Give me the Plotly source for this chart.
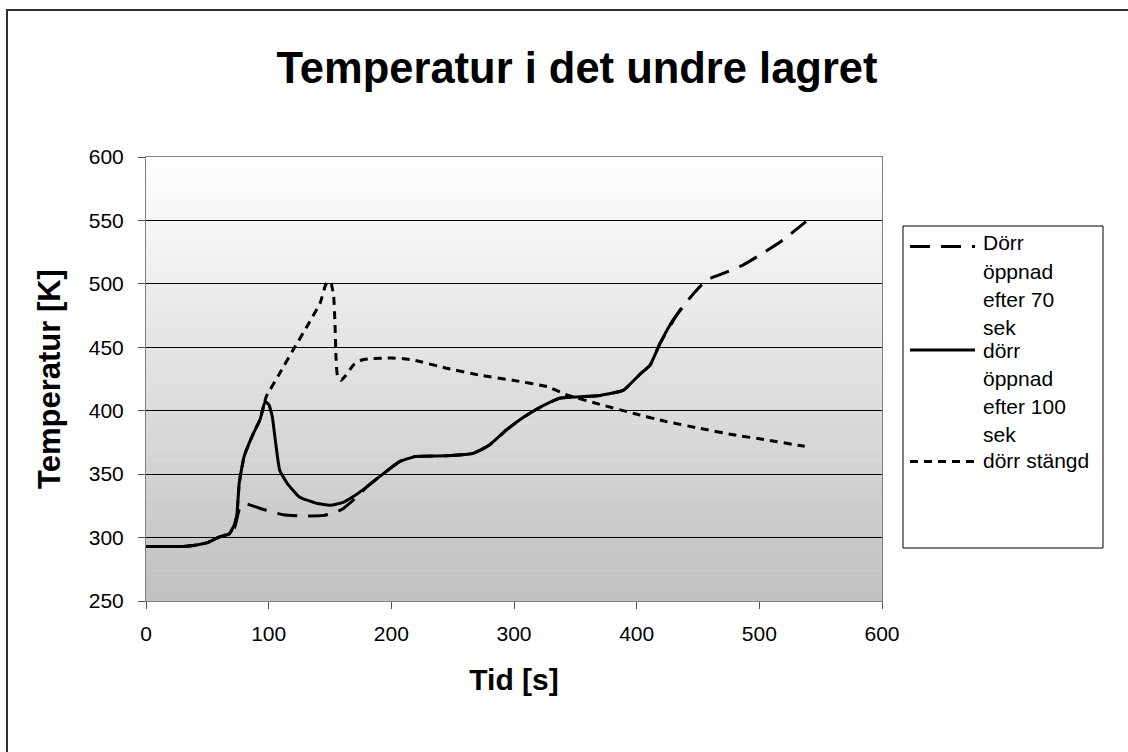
import plotly.graph_objects as go

# ---------------- data ----------------
x_open70 = [0, 10, 20, 30, 40, 50, 60, 68, 72, 76, 80, 90, 98, 112, 131, 145, 155, 161, 172, 180,
            193, 207, 220, 245, 267, 280, 294, 308, 318, 330, 338, 354, 370, 389, 403, 411, 419,
            435, 447, 457, 470, 487, 500, 517, 538]
y_open70 = [293, 293, 293, 293, 294, 296, 300.5, 303, 307, 322, 327, 324, 321.5, 318, 317, 317.5, 320, 323, 332, 340,
            350, 360, 364, 364.5, 366.5, 373, 385, 395, 401, 407, 410, 411, 412, 416, 429, 436, 453,
            479, 493, 503, 508, 515, 522.5, 533, 549]

x_open100 = [0, 10, 20, 30, 40, 50, 60, 68, 72, 74, 76, 80, 87, 93, 97, 100, 103, 105, 109, 115, 125, 139,
             150, 160, 170, 180, 193, 207, 220, 245, 267, 280, 294, 308, 318, 330, 338, 354, 370, 389,
             403, 411, 419, 430, 437]
y_open100 = [293, 293, 293, 293, 294, 296, 300.5, 303, 310, 317, 343, 364, 381, 393, 407, 405, 395, 380, 353, 343, 332, 327,
             325.5, 327.5, 333, 340, 350, 360, 364, 364.5, 366.5, 373, 385, 395, 401, 407, 410, 411, 412, 416,
             429, 436, 453, 472, 481]

x_closed = [0, 10, 20, 30, 40, 50, 60, 68, 72, 74, 76, 80, 87, 93, 98, 109, 120, 131, 142, 146, 148, 151,
            153, 154, 155, 156, 159, 163, 169, 176, 183, 200, 210, 218, 245, 272, 299, 327, 343, 370,
            397, 424, 452, 479, 506, 533, 537]
y_closed = [293, 293, 293, 293, 294, 296, 300.5, 303, 310, 317, 343, 364, 381, 393, 411, 429.5, 448, 466, 485, 498, 502, 500,
            490, 470, 440, 428, 424, 428, 436, 440, 441, 441.5, 441, 440, 433.5, 428, 424, 419, 412.5, 405,
            398, 391.5, 386, 381, 377, 372.5, 372]

series_names = ["Dörr öppnad efter 70 sek", "dörr öppnad efter 100 sek", "dörr stängd"]
legend_lines = [["Dörr", "öppnad", "efter 70", "sek"],
                ["dörr", "öppnad", "efter 100", "sek"],
                ["dörr stängd"]]

title_text = "Temperatur i det undre lagret"
x_title = "Tid [s]"
y_title = "Temperatur [K]"

# ---------------- layout geometry ----------------
W, H = 1128, 752
L, R, T, B = 146, 882, 157, 601
PW, PH = R - L, B - T


def px(xp):
    return (xp - L) / PW


def py(yp):
    return (B - yp) / PH


FONT = "Liberation Sans, Arial, sans-serif"
dashes = ["20px,11px", "solid", "8px,6px"]

fig = go.Figure()
for xs, ys, name, d in zip([x_open70, x_open100, x_closed], [y_open70, y_open100, y_closed], series_names, dashes):
    fig.add_trace(go.Scatter(x=xs, y=ys, mode="lines", name=name,
                             line=dict(color="black", width=3, dash=d, shape="spline", smoothing=0.4),
                             showlegend=False))

shapes = []
# gradient background of the plot area
N = 60
top_c, bot_c = 255, 192
for i in range(N):
    f = (i + 0.5) / N
    c = round(top_c + (bot_c - top_c) * f)
    shapes.append(dict(type="rect", xref="x domain", yref="y domain", x0=0, x1=1,
                       y0=1 - (i + 1) / N - 0.001, y1=1 - i / N,
                       fillcolor=f"rgb({c},{c},{c})", line=dict(width=0), layer="below"))
# outer chart border
shapes.append(dict(type="rect", xref="paper", yref="paper", x0=px(7), x1=px(1140), y0=py(770), y1=py(10),
                   line=dict(color="#303030", width=2), fillcolor="rgba(0,0,0,0)", layer="above"))
# legend box
shapes.append(dict(type="rect", xref="paper", yref="paper", x0=px(903), x1=px(1103), y0=py(548), y1=py(226),
                   line=dict(color="black", width=1), fillcolor="white", layer="above"))
# legend samples
for yy, d in zip([246.5, 350, 461.5], dashes):
    shapes.append(dict(type="line", xref="paper", yref="paper", x0=px(910), x1=px(975), y0=py(yy), y1=py(yy),
                       line=dict(color="black", width=3, dash=d), layer="above"))

annotations = []
line_y = [[242, 271, 299, 327], [350, 378, 406, 434], [460]]
for lines, ys in zip(legend_lines, line_y):
    for txt, yy in zip(lines, ys):
        annotations.append(dict(text=txt, xref="paper", yref="paper", x=px(981), y=py(yy),
                                xanchor="left", yanchor="middle", showarrow=False,
                                font=dict(family=FONT, size=21, color="black")))

fig.update_layout(
    width=W, height=H,
    margin=dict(l=L, r=W - R, t=T, b=H - B, pad=0),
    paper_bgcolor="white", plot_bgcolor="white",
    title=dict(text=f"<b>{title_text}</b>", x=(277 + 877) / 2 / W, xanchor="center",
               y=1 - 68 / H, yanchor="middle", yref="container",
               font=dict(family=FONT, size=43.5, color="black")),
    shapes=shapes, annotations=annotations,
    showlegend=False,
)
fig.update_xaxes(range=[0, 600], dtick=100, tick0=0, showgrid=False, zeroline=False,
                 showline=True, mirror=True, linecolor="#808080", linewidth=1,
                 ticks="outside", ticklen=7, tickcolor="#505050",
                 tickfont=dict(family=FONT, size=21, color="black"), ticklabelstandoff=7,
                 title=dict(text=f"<b>{x_title}</b>", font=dict(family=FONT, size=30, color="black"), standoff=24))
fig.update_yaxes(range=[250, 600], dtick=50, tick0=250, showgrid=True, gridcolor="black", gridwidth=1,
                 zeroline=False, showline=True, mirror=True, linecolor="#808080", linewidth=1,
                 ticks="outside", ticklen=7, tickcolor="#505050",
                 tickfont=dict(family=FONT, size=21, color="black"), ticklabelstandoff=10,
                 title=dict(text=f"<b>{y_title}</b>", font=dict(family=FONT, size=31, color="black"), standoff=18))

fig.write_html("out.html")
